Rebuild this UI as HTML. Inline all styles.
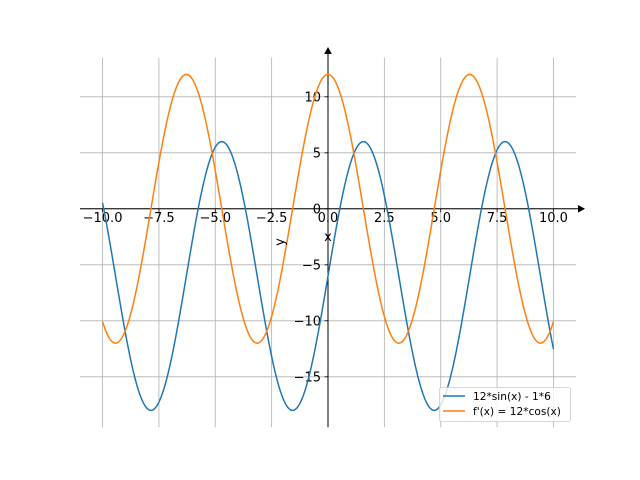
<!DOCTYPE html>
<html><head><meta charset="utf-8"><style>
body{margin:0;background:#fff}
svg{display:block;font-family:"DejaVu Sans","Liberation Sans",sans-serif}
</style></head><body>
<svg id="s" width="640" height="480" xmlns="http://www.w3.org/2000/svg">
<rect width="640" height="480" fill="#fff"/>
<g id="grid" stroke="#b0b0b0" stroke-width="0.8"></g>
<g id="ticks" stroke="#000" stroke-width="0.8"></g>
<g id="labels" font-size="13" fill="#000"></g>
<line x1="80" y1="208.8" x2="580" y2="208.8" stroke="#000" stroke-width="1"/>
<line x1="328" y1="427.2" x2="328" y2="53" stroke="#000" stroke-width="1"/>
<polygon points="585,208.8 578,205 578,212.6" fill="#000"/>
<polygon points="328,47 324.2,54 331.8,54" fill="#000"/>
<path id="blue" fill="none" stroke="#1f77b4" stroke-width="1.5"/>
<path id="orange" fill="none" stroke="#ff7f0e" stroke-width="1.5"/>
<text x="328" y="241" font-size="13" text-anchor="middle">x</text>
<text x="0" y="0" font-size="13" text-anchor="middle" transform="translate(284,242) rotate(-90)">y</text>
<rect x="439.5" y="387.5" width="131" height="34" rx="2" fill="#fff" fill-opacity="0.8" stroke="#ccc" stroke-width="0.8"/>
<line x1="443" y1="396" x2="465" y2="396" stroke="#1f77b4" stroke-width="1.5"/>
<line x1="443" y1="411" x2="465" y2="411" stroke="#ff7f0e" stroke-width="1.5"/>
<text x="473" y="400" font-size="10.6">12*sin(x) - 1*6</text>
<text x="473" y="415" font-size="10.6">f'(x) = 12*cos(x)</text>
</svg>
<script>
var X=v=>328+v*22.545,Y=v=>208.8-v*11.2;
var g=document.getElementById('grid'),t=document.getElementById('ticks'),l=document.getElementById('labels');
var ns='http://www.w3.org/2000/svg';
function el(p,n,a,txt){var e=document.createElementNS(ns,n);for(var k in a)e.setAttribute(k,a[k]);if(txt!=null)e.textContent=txt;p.appendChild(e);}
[-10,-7.5,-5,-2.5,0,2.5,5,7.5,10].forEach(v=>{var x=X(v);
 el(g,'line',{x1:x,x2:x,y1:57.6,y2:427.2});
 el(t,'line',{x1:x,x2:x,y1:208.8,y2:212.3});
 el(l,'text',{x:x,y:222,'text-anchor':'middle'},(v<0?'\u2212':'')+Math.abs(v).toFixed(1));});
[-15,-10,-5,0,5,10].forEach(v=>{var y=Y(v);
 el(g,'line',{x1:80,x2:576,y1:y,y2:y});
 el(t,'line',{x1:324.5,x2:328,y1:y,y2:y});
 el(l,'text',{x:321,y:y+4.5,'text-anchor':'end'},(v<0?'\u2212':'')+Math.abs(v));});
var b='',o='';for(var i=0;i<=400;i++){var x=-10+i*0.05;
 b+=(i?'L':'M')+X(x).toFixed(2)+' '+Y(12*Math.sin(x)-6).toFixed(2);
 o+=(i?'L':'M')+X(x).toFixed(2)+' '+Y(12*Math.cos(x)).toFixed(2);}
document.getElementById('blue').setAttribute('d',b);
document.getElementById('orange').setAttribute('d',o);
</script>
</body></html>
